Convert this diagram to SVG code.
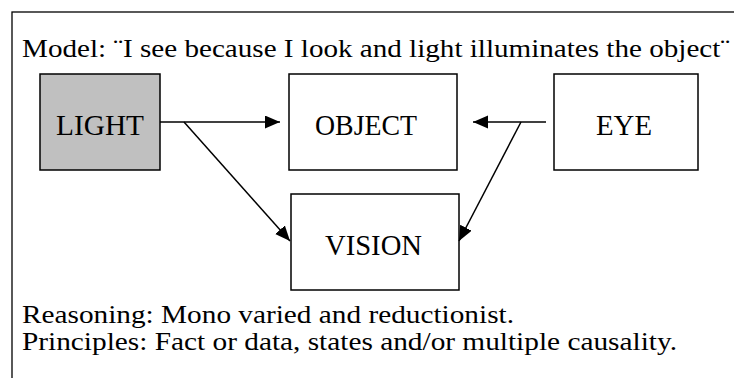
<svg xmlns="http://www.w3.org/2000/svg" width="734" height="378" viewBox="0 0 734 378">
<style>
text{font-family:"Liberation Serif","Times New Roman",serif;fill:#000}
.lbl{font-size:29px}
.txt{font-size:25px}
.box{fill:#fff;stroke:#000;stroke-width:1.5}
.conn{stroke:#000;stroke-width:1.5;fill:none}
</style>
<defs>
<marker id="ah" markerUnits="userSpaceOnUse" markerWidth="16" markerHeight="14" refX="15" refY="6.5" orient="auto">
<path d="M0,0 L15,6.5 L0,13 Z" fill="#000"/>
</marker>
</defs>
<rect x="12" y="12" width="740" height="380" fill="none" stroke="#000" stroke-width="1.3"/>
<text class="txt" x="22" y="56.5" textLength="708" lengthAdjust="spacingAndGlyphs">Model: ¨I see because I look and light illuminates the object¨</text>
<g id="light"><rect class="box" x="40" y="74" width="120" height="96" style="fill:#c0c0c0"/><text class="lbl" x="56" y="134.5" textLength="88" lengthAdjust="spacingAndGlyphs">LIGHT</text></g>
<g id="object"><rect class="box" x="289" y="74" width="168" height="96"/><text class="lbl" x="315" y="135" textLength="102" lengthAdjust="spacingAndGlyphs">OBJECT</text></g>
<g id="eye"><rect class="box" x="554" y="74" width="144" height="96"/><text class="lbl" x="596" y="135" textLength="56" lengthAdjust="spacingAndGlyphs">EYE</text></g>
<g id="vision"><rect class="box" x="291" y="194" width="168" height="96"/><text class="lbl" x="325" y="255" textLength="97" lengthAdjust="spacingAndGlyphs">VISION</text></g>
<g id="connectors">
<line class="conn" x1="160" y1="122" x2="280" y2="122" marker-end="url(#ah)"/>
<line class="conn" x1="184" y1="122" x2="290" y2="241" marker-end="url(#ah)"/>
<line class="conn" x1="546" y1="122" x2="473" y2="122" marker-end="url(#ah)"/>
<line class="conn" x1="521" y1="122" x2="459" y2="241" marker-end="url(#ah)"/>
</g>
<text class="txt" x="22" y="323" textLength="492" lengthAdjust="spacingAndGlyphs">Reasoning: Mono varied and reductionist.</text>
<text class="txt" x="22" y="350" textLength="655" lengthAdjust="spacingAndGlyphs">Principles: Fact or data, states and/or multiple causality.</text>
</svg>
